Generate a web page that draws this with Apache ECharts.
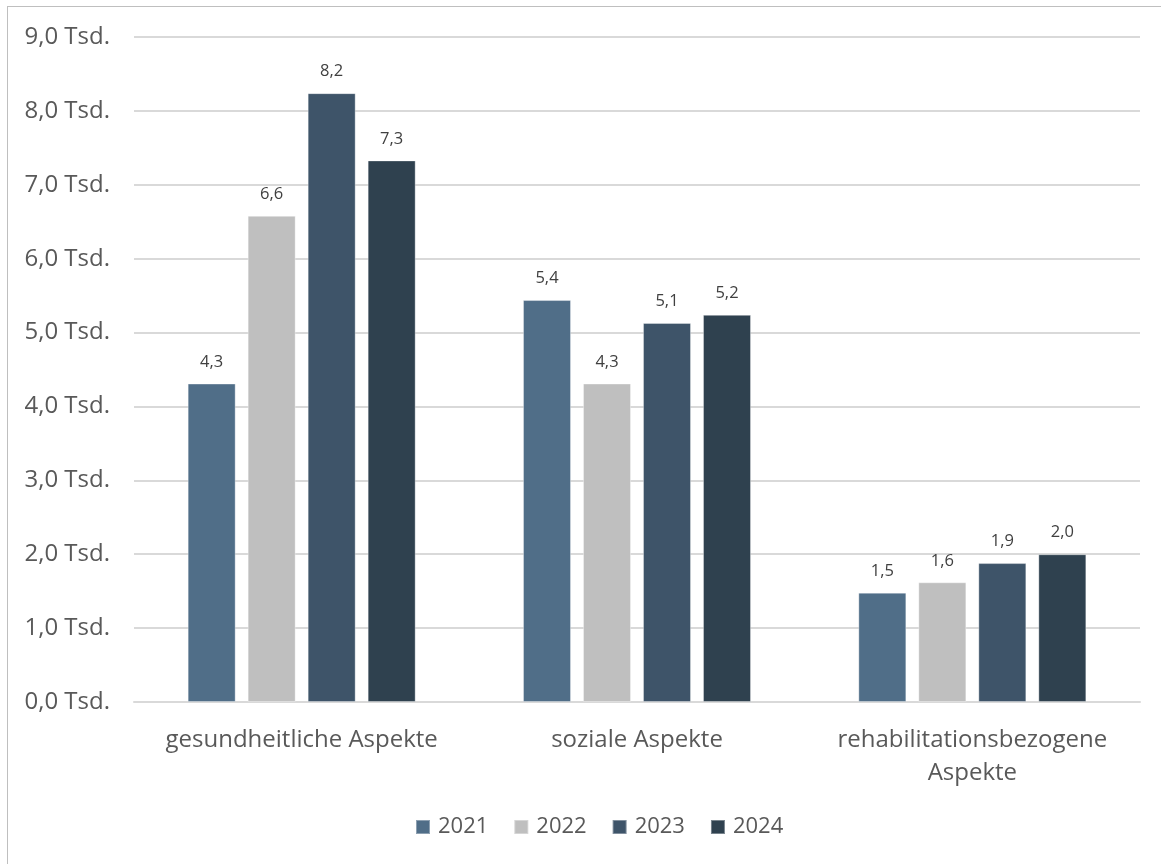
<!DOCTYPE html>
<html>
<head>
<meta charset="utf-8">
<script src="https://cdn.jsdelivr.net/npm/echarts@6/dist/echarts.min.js"></script>
<style>
html,body{margin:0;padding:0;background:#fff;overflow:hidden;}
#chart{position:absolute;left:0;top:0;width:1161px;height:864px;}
#frame{position:absolute;left:7px;top:6px;width:1170px;height:870px;border:1px solid #bfbfbf;box-sizing:border-box;pointer-events:none;}
</style>
</head>
<body>
<div id="chart"></div>
<div id="frame"></div>
<script>
const categories = ['gesundheitliche Aspekte', 'soziale Aspekte', 'rehabilitationsbezogene\nAspekte'];
const seriesNames = ['2021', '2022', '2023', '2024'];
const values2021 = [4310, 5440, 1480];
const values2022 = [6580, 4310, 1620];
const values2023 = [8240, 5130, 1880];
const values2024 = [7330, 5240, 2000];
const yTicks = [0, 1000, 2000, 3000, 4000, 5000, 6000, 7000, 8000, 9000];

const seriesValues = [values2021, values2022, values2023, values2024];
const colors = ['#506e88', '#bfbfbf', '#3e5469', '#2f414f'];
const fmt = v => (v / 1000).toFixed(1).replace('.', ',');

const chart = echarts.init(document.getElementById('chart'));
chart.setOption({
  animation: false,
  textStyle: { fontFamily: '"Open Sans", "Noto Sans", sans-serif' },
  grid: { left: 134, right: 21, top: 37, bottom: 162 },
  legend: {
    bottom: 21,
    left: 410,
    itemWidth: 14,
    itemHeight: 14,
    itemGap: 25,
    icon: 'rect',
    textStyle: { fontSize: 22, color: '#595959', padding: [0, 0, 0, 3] },
    data: seriesNames
  },
  xAxis: {
    type: 'category',
    data: categories,
    axisLine: { lineStyle: { color: '#d9d9d9', width: 2 } },
    axisTick: { show: false },
    axisLabel: { fontSize: 24, color: '#595959', margin: 22, lineHeight: 33, interval: 0 }
  },
  yAxis: {
    type: 'value',
    min: yTicks[0],
    max: yTicks[yTicks.length - 1],
    interval: 1000,
    axisLine: { show: false },
    axisTick: { show: false },
    splitLine: { lineStyle: { color: '#d9d9d9', width: 2 } },
    axisLabel: { fontSize: 24, color: '#595959', margin: 24, formatter: v => fmt(v) + ' Tsd.' }
  },
  series: seriesNames.map((name, i) => ({
    name: name,
    type: 'bar',
    data: seriesValues[i],
    barWidth: 48,
    barGap: '25%',
    itemStyle: { color: colors[i], borderColor: 'rgba(255,255,255,0.35)', borderWidth: 1 },
    label: {
      show: true,
      position: 'top',
      distance: 13,
      fontSize: 16.5,
      color: '#404040',
      formatter: p => fmt(p.value)
    }
  }))
});
</script>
</body>
</html>
